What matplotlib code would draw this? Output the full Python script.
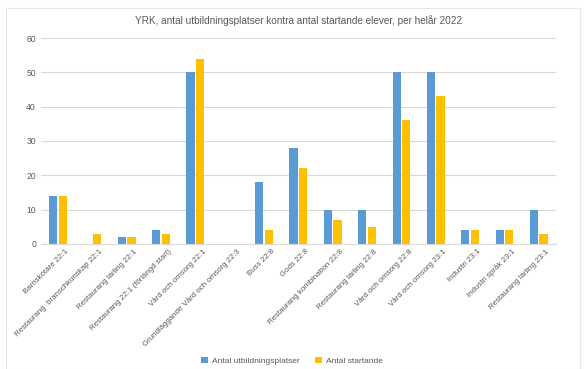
import numpy as np
import matplotlib
matplotlib.use('Agg')
import matplotlib.pyplot as plt
from matplotlib.patches import Rectangle
from matplotlib.transforms import ScaledTranslation

# Utbildningar och värden
kategorier = ['Barnskötare 22:1', 'Restaurang  branschkunskap 22:1', 'Restaurang lärling 22:1',
              'Restaurang 22:1 (förlängd start)', 'Vård och omsorg 22:1',
              'Grundläggande Vård och omsorg 22:3', 'Buss 22:8', 'Gods 22:8',
              'Restaurang kombination 22:8', 'Restaurang lärling 22:8', 'Vård och omsorg 22:8',
              'Vård och omsorg 23:1', 'Industri 23:1', 'Industri språk 23:1',
              'Restaurang lärling 23:1']
platser = [14, 0, 2, 4, 50, 0, 18, 28, 10, 10, 50, 50, 4, 4, 10]
startande = [14, 3, 2, 3, 54, 0, 4, 22, 7, 5, 36, 43, 4, 4, 3]

blå = '#5B9BD5'
gul = '#FFC000'
grå = '#595959'

plt.rcParams['font.family'] = ['Liberation Sans', 'DejaVu Sans']

fig = plt.figure(figsize=(5.84, 3.69), dpi=100)
ax = fig.add_axes([0.07, 0.339, 0.882, 0.558])

x = np.arange(len(kategorier))
b = 0.24
ax.bar(x - b / 2 - 0.02, platser, b, color=blå, label='Antal utbildningsplatser')
ax.bar(x + b / 2 + 0.02, startande, b, color=gul, label='Antal startande')

ax.set_xlim(-0.5, len(kategorier) - 0.5)
ax.set_ylim(0, 60)
ax.set_yticks(range(0, 61, 10))
ax.grid(axis='y', color='#D9D9D9', linewidth=0.8)
ax.set_axisbelow(True)
for s in ['top', 'right', 'left']:
    ax.spines[s].set_visible(False)
ax.spines['bottom'].set_color('#D9D9D9')
ax.tick_params(axis='both', length=0, labelsize=6.2, colors=grå)
ax.tick_params(axis='x', labelsize=5.7, pad=3)
ax.set_xticks(x)
ax.set_xticklabels(kategorier, rotation=45, ha='right', rotation_mode='anchor')
forskj = ScaledTranslation(5 / 72, 0, fig.dpi_scale_trans)
for lbl in ax.get_xticklabels():
    lbl.set_transform(lbl.get_transform() + forskj)

ax.set_title('YRK, antal utbildningsplatser kontra antal startande elever, per helår 2022',
             fontsize=7.2, color=grå, pad=10)

fig.legend(loc='lower center', bbox_to_anchor=(0.5, -0.01), ncol=2, frameon=False,
           fontsize=6, handlelength=0.8, handleheight=0.8, columnspacing=1.8,
           handletextpad=0.5, labelcolor=grå)

fig.patches.append(Rectangle((0.01, 0.0), 0.983, 0.978, transform=fig.transFigure,
                             fill=False, edgecolor='#E6E6E6', linewidth=0.8))

fig.savefig('out.png', dpi=100)
